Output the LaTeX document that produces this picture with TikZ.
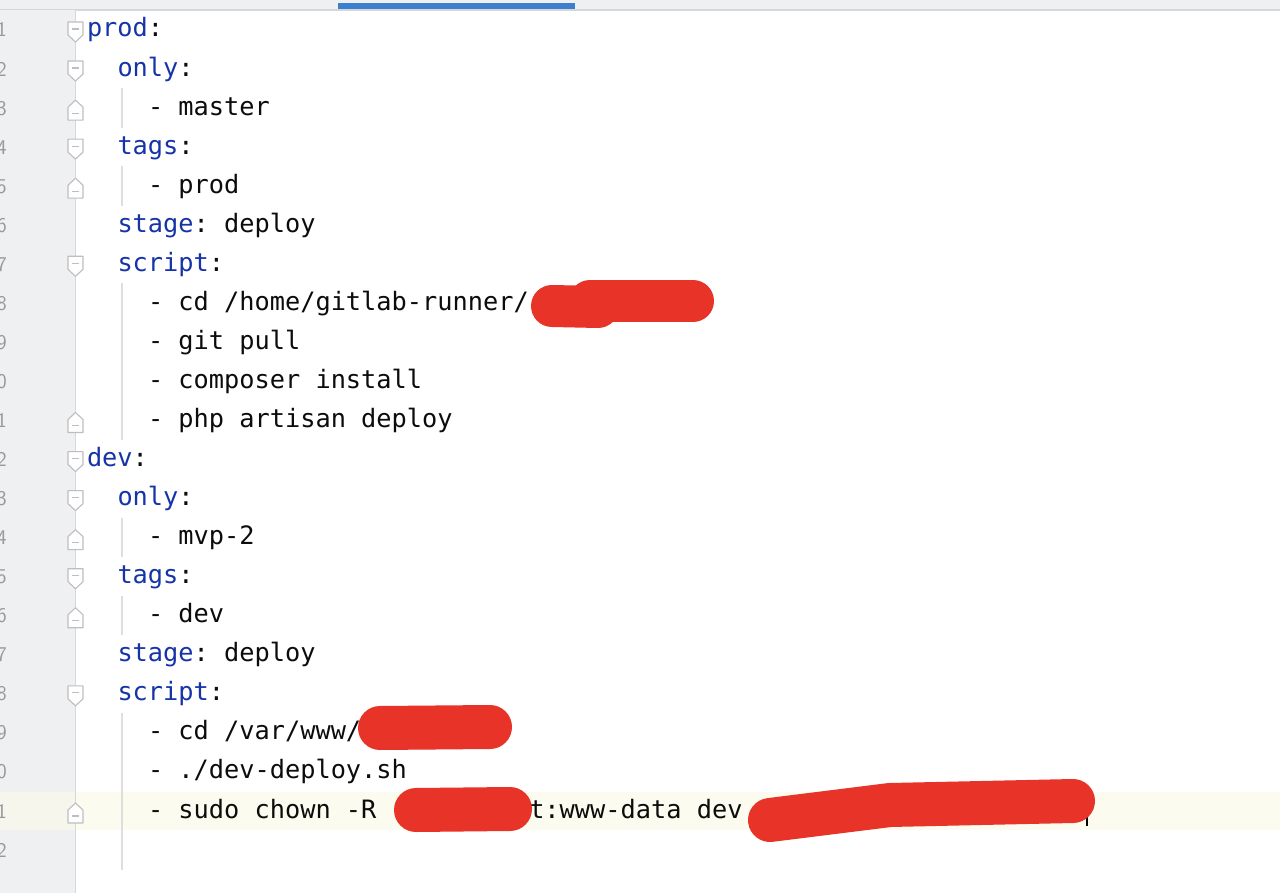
\documentclass[tikz,border=0pt]{standalone}
\usepackage{fontspec}
\setmonofont{DejaVu Sans Mono}
\definecolor{keyblue}{RGB}{22,52,168}
\definecolor{codeblack}{RGB}{12,12,12}
\definecolor{gutterbg}{RGB}{239,240,242}
\definecolor{gutterline}{RGB}{214,215,217}
\definecolor{guide}{RGB}{222,222,222}
\definecolor{curline}{RGB}{251,251,240}
\definecolor{curgutter}{RGB}{246,246,236}
\definecolor{redact}{RGB}{232,52,40}
\definecolor{tabblue}{RGB}{60,127,206}
\definecolor{foldgray}{RGB}{190,190,192}
\newcommand{\kw}[1]{\textcolor{keyblue}{#1}}
\tikzset{
  codeline/.style={anchor=base west, inner sep=0pt, outer sep=0pt, text=codeblack,
    font=\ttfamily\fontsize{25.3}{30}\selectfont},
  lnum/.style={anchor=base east, inner sep=0pt, text=black!40,
    font=\sffamily\fontsize{21}{24}\selectfont},
  guideline/.style={draw=guide, line width=1.4pt},
  foldshape/.style={draw=foldgray, fill=white!96!gutterbg, line width=1.1pt, line join=round},
  foldminus/.style={draw=foldgray, line width=1.1pt},
  blob/.style={draw=redact, line cap=round, line join=round},
  fold down/.pic={
    \path[foldshape] (-7.5,-10) -- (7.5,-10) -- (7.5,3) -- (0,10) -- (-7.5,3) -- cycle;
    \path[foldminus] (-3.5,-3) -- (3.5,-3);
  },
  fold up/.pic={
    \path[foldshape] (-7.5,10) -- (7.5,10) -- (7.5,-3) -- (0,-10) -- (-7.5,-3) -- cycle;
    \path[foldminus] (-3.5,3) -- (3.5,3);
  },
}
\begin{document}
\begin{tikzpicture}[x=1pt,y=-1pt]
\useasboundingbox (0,0) rectangle (1280,893);
\begin{scope}
\clip (0,0) rectangle (1280,893);
% editor background
\fill[white] (0,0) rectangle (1280,893);
% top tab bar
\fill[gutterbg] (0,0) rectangle (1280,9.5);
\draw[gutterline, line width=1.5pt] (0,9.8) -- (1280,9.8);
\fill[tabblue] (338,3) rectangle (575,9.5);
% gutter
\fill[gutterbg] (0,10.5) rectangle (75,893);
% current line highlight (line 21)
\fill[curline] (76,792) rectangle (1280,830);
\fill[curgutter] (0,792) rectangle (75,830);
\draw[gutterline, line width=1.2pt] (75.5,10.5) -- (75.5,893);
% line numbers (cut off at the left edge, as in the screenshot)
\foreach \n in {1,...,22} {
  \node[lnum] (ln\n) at (7,{37+39.05*(\n-1)}) {\n};
}
% indent guides
\foreach \a/\b in {3/3,5/5,8/11,14/14,16/16,19/22} {
  \draw[guideline] (122,{37+39.05*(\a-1)-27}) -- (122,{37+39.05*(\b-1)+12.5});
}
% fold markers
\foreach \n in {1,2,4,7,12,13,15,18} {
  \pic at (75.5,{37+39.05*(\n-1)-5}) {fold down};
}
\foreach \n in {3,5,11,14,16,21} {
  \pic at (75.5,{37+39.05*(\n-1)-5}) {fold up};
}
% code lines
\node[codeline] (l1)  at ({87+0*15.25},{37+39.05*0})  {\kw{prod}:};
\node[codeline] (l2)  at ({87+2*15.25},{37+39.05*1})  {\kw{only}:};
\node[codeline] (l3)  at ({87+4*15.25},{37+39.05*2})  {- master};
\node[codeline] (l4)  at ({87+2*15.25},{37+39.05*3})  {\kw{tags}:};
\node[codeline] (l5)  at ({87+4*15.25},{37+39.05*4})  {- prod};
\node[codeline] (l6)  at ({87+2*15.25},{37+39.05*5})  {\kw{stage}: deploy};
\node[codeline] (l7)  at ({87+2*15.25},{37+39.05*6})  {\kw{script}:};
\node[codeline] (l8)  at ({87+4*15.25},{37+39.05*7})  {- cd /home/gitlab-runner/};
\node[codeline] (l9)  at ({87+4*15.25},{37+39.05*8})  {- git pull};
\node[codeline] (l10) at ({87+4*15.25},{37+39.05*9})  {- composer install};
\node[codeline] (l11) at ({87+4*15.25},{37+39.05*10}) {- php artisan deploy};
\node[codeline] (l12) at ({87+0*15.25},{37+39.05*11}) {\kw{dev}:};
\node[codeline] (l13) at ({87+2*15.25},{37+39.05*12}) {\kw{only}:};
\node[codeline] (l14) at ({87+4*15.25},{37+39.05*13}) {- mvp-2};
\node[codeline] (l15) at ({87+2*15.25},{37+39.05*14}) {\kw{tags}:};
\node[codeline] (l16) at ({87+4*15.25},{37+39.05*15}) {- dev};
\node[codeline] (l17) at ({87+2*15.25},{37+39.05*16}) {\kw{stage}: deploy};
\node[codeline] (l18) at ({87+2*15.25},{37+39.05*17}) {\kw{script}:};
\node[codeline] (l19) at ({87+4*15.25},{37+39.05*18}) {- cd /var/www/};
\node[codeline] (l20) at ({87+4*15.25},{37+39.05*19}) {- ./dev-deploy.sh};
\node[codeline] (l21) at ({87+4*15.25},{37+39.05*20}) {- sudo chown -R};
\node[codeline] (l21b) at ({87+29*15.25},{37+39.05*20}) {t:www-data dev};
% text cursor
\draw[black, line width=1.2pt] (1087,797) -- (1087,826);
% redaction marks
\draw[blob, line width=42pt] (552,306) -- (598,307);
\draw[blob, line width=42pt] (590,301) -- (693,301);
\draw[blob, line width=44pt] (380,728) -- (490,727);
\draw[blob, line width=44pt] (416,810) -- (510,809);
\draw[blob, line width=44pt] (770,820) -- (890,805) -- (1073,801);
\end{scope}
\end{tikzpicture}
\end{document}
